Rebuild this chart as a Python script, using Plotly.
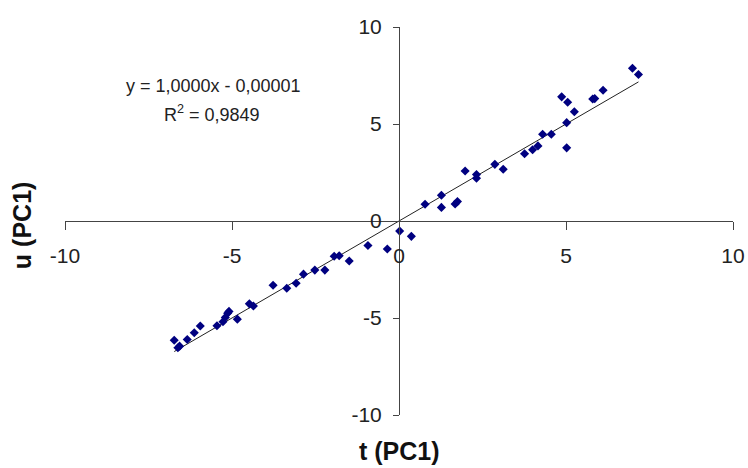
import plotly.graph_objects as go

# Data
t_pc1 = [-6.73, -6.62, -6.57, -6.34, -6.13, -5.95, -5.45, -5.27, -5.20, -5.13, -5.09, -4.84,
         -4.48, -4.36, -3.77, -3.36, -3.08, -2.86, -2.52, -2.22, -1.94, -1.79, -1.49, -0.93,
         -0.35, 0.02, 0.37,
         0.78, 1.27, 1.27, 1.68, 1.75, 1.98, 2.32, 2.32, 2.87, 3.12, 3.76, 4.00, 4.16, 4.30,
         4.56, 4.87, 5.02, 5.02, 5.05, 5.25, 5.80, 5.86, 6.11, 6.99, 7.17]
u_pc1 = [-6.15, -6.53, -6.45, -6.11, -5.76, -5.41, -5.40, -5.19, -4.97, -4.75, -4.66, -5.06,
         -4.27, -4.38, -3.31, -3.47, -3.21, -2.74, -2.53, -2.53, -1.82, -1.79, -2.06, -1.26,
         -1.44, -0.52, -0.79,
         0.86, 1.33, 0.70, 0.88, 1.00, 2.58, 2.40, 2.21, 2.92, 2.67, 3.47, 3.67, 3.87, 4.47,
         4.47, 6.40, 5.07, 3.77, 6.12, 5.63, 6.29, 6.31, 6.74, 7.87, 7.55]

trend_slope = 1.0000
trend_intercept = -0.00001
equation_text = "y = 1,0000x - 0,00001"
r2_text = "R<sup>2</sup> = 0,9849"

tick_values = [-10, -5, 0, 5, 10]
tick_labels = ["-10", "-5", "0", "5", "10"]

x_min, x_max = min(t_pc1), max(t_pc1)
trend_x = [x_min, x_max]
trend_y = [trend_slope * v + trend_intercept for v in trend_x]

fig = go.Figure()
fig.add_trace(go.Scatter(
    x=trend_x, y=trend_y, mode="lines",
    line=dict(color="#222222", width=1), hoverinfo="skip", showlegend=False))
fig.add_trace(go.Scatter(
    x=t_pc1, y=u_pc1, mode="markers",
    marker=dict(symbol="diamond", size=7, color="#000080"), showlegend=False))

font_family = "Liberation Sans, Arial, sans-serif"

fig.update_layout(
    width=748, height=468,
    margin=dict(l=65, r=15, t=27, b=53, autoexpand=False),
    paper_bgcolor="white", plot_bgcolor="white",
    font=dict(family=font_family, color="#222222"),
    xaxis=dict(
        range=[-10, 10], anchor="free", position=0.5, automargin=False,
        showline=True, linecolor="#444444", linewidth=1,
        ticks="outside", ticklen=8, tickcolor="#444444",
        tickvals=tick_values, ticktext=tick_labels,
        tickfont=dict(size=21, family=font_family, color="#222222"),
        ticklabelstandoff=8,
        showgrid=False, zeroline=False),
    yaxis=dict(
        range=[-10, 10], anchor="free", position=0.5, automargin=False,
        showline=True, linecolor="#444444", linewidth=1,
        ticks="outside", ticklen=6, tickcolor="#444444",
        tickvals=tick_values, ticktext=tick_labels,
        tickfont=dict(size=21, family=font_family, color="#222222"),
        ticklabelstandoff=7,
        showgrid=False, zeroline=False),
    annotations=[
        dict(text="<b>t (PC1)</b>", xref="paper", yref="paper", x=0.5, y=-0.094,
             xanchor="center", yanchor="middle", showarrow=False,
             font=dict(size=25, family=font_family, color="#111111")),
        dict(text="<b>u (PC1)</b>", xref="paper", yref="paper", x=-0.064, y=0.49,
             xanchor="center", yanchor="middle", showarrow=False, textangle=-90,
             font=dict(size=25, family=font_family, color="#111111")),
        dict(text=equation_text, xref="x", yref="y", x=-5.55, y=6.98,
             xanchor="center", yanchor="middle", showarrow=False,
             font=dict(size=18, family=font_family, color="#222222")),
        dict(text=r2_text, xref="x", yref="y", x=-5.6, y=5.54,
             xanchor="center", yanchor="middle", showarrow=False,
             font=dict(size=18, family=font_family, color="#222222")),
    ],
)

# Remove the default 8px body margin so the 748x468 figure fills the window exactly
fig.write_html("out.html", config={"displayModeBar": False},
               post_script="document.body.style.margin='0';")
